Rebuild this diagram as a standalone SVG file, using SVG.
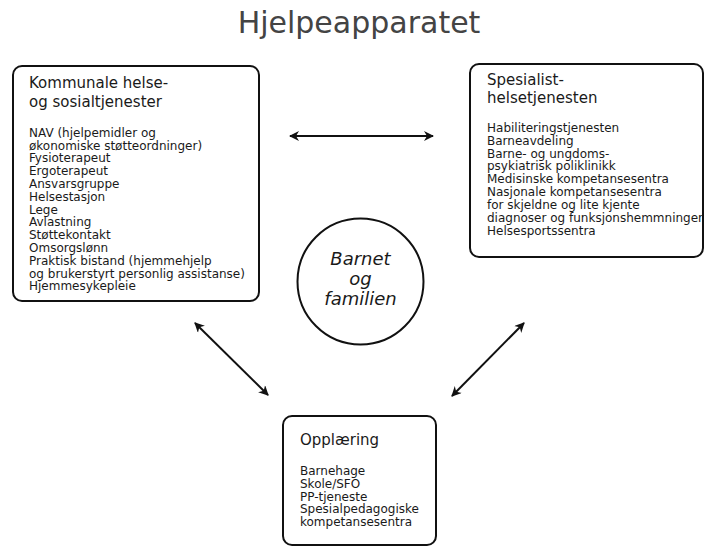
<svg xmlns="http://www.w3.org/2000/svg" width="705" height="548" viewBox="0 0 705 548">
<style>
.box{fill:#fff;stroke:#111;stroke-width:2}
.t{font-family:"DejaVu Sans","Verdana",sans-serif;fill:#1a1a1a}
.h{font-size:15px}
.i{font-size:12px}
.c{stroke:#111;stroke-width:2;fill:none;marker-start:url(#ah);marker-end:url(#ah)}
</style>
<defs>
<marker id="ah" viewBox="0 0 10 10" refX="9" refY="5" markerWidth="11" markerHeight="10" markerUnits="userSpaceOnUse" orient="auto-start-reverse">
<path d="M0,0 L10,5 L0,10 L3,5 z" fill="#111"/>
</marker>
</defs>
<rect width="705" height="548" fill="#fff"/>
<text x="359" y="33" text-anchor="middle" class="t" style="font-size:30px;fill:#444">Hjelpeapparatet</text>

<g id="kommunale">
<rect class="box" x="13" y="66" width="246" height="235" rx="9"/>
<text class="t h" x="29" y="88">Kommunale helse-</text>
<text class="t h" x="29" y="107">og sosialtjenester</text>
<text class="t i" x="29" y="136.7">NAV (hjelpemidler og</text>
<text class="t i" x="29" y="149.5">økonomiske støtteordninger)</text>
<text class="t i" x="29" y="162.3">Fysioterapeut</text>
<text class="t i" x="29" y="175.1">Ergoterapeut</text>
<text class="t i" x="29" y="187.9">Ansvarsgruppe</text>
<text class="t i" x="29" y="200.7">Helsestasjon</text>
<text class="t i" x="29" y="213.5">Lege</text>
<text class="t i" x="29" y="226.3">Avlastning</text>
<text class="t i" x="29" y="239.1">Støttekontakt</text>
<text class="t i" x="29" y="251.9">Omsorgslønn</text>
<text class="t i" x="29" y="264.7">Praktisk bistand (hjemmehjelp</text>
<text class="t i" x="29" y="277.5">og brukerstyrt personlig assistanse)</text>
<text class="t i" x="29" y="290.3">Hjemmesykepleie</text>
</g>

<g id="spesialist">
<rect class="box" x="470" y="64" width="233" height="193" rx="9"/>
<text class="t h" x="487" y="85">Spesialist-</text>
<text class="t h" x="487" y="103">helsetjenesten</text>
<text class="t i" x="487" y="131.7">Habiliteringstjenesten</text>
<text class="t i" x="487" y="144.6">Barneavdeling</text>
<text class="t i" x="487" y="157.5">Barne- og ungdoms-</text>
<text class="t i" x="487" y="170.4">psykiatrisk poliklinikk</text>
<text class="t i" x="487" y="183.3">Medisinske kompetansesentra</text>
<text class="t i" x="487" y="196.2">Nasjonale kompetansesentra</text>
<text class="t i" x="487" y="209.1">for skjeldne og lite kjente</text>
<text class="t i" x="487" y="222">diagnoser og funksjonshemmninger</text>
<text class="t i" x="487" y="234.9">Helsesportssentra</text>
</g>

<g id="opplaering">
<rect class="box" x="283" y="416" width="153" height="129" rx="9"/>
<text class="t h" x="300" y="445">Opplæring</text>
<text class="t i" x="300" y="475">Barnehage</text>
<text class="t i" x="300" y="487.75">Skole/SFO</text>
<text class="t i" x="300" y="500.5">PP-tjeneste</text>
<text class="t i" x="300" y="513.25">Spesialpedagogiske</text>
<text class="t i" x="300" y="526">kompetansesentra</text>
</g>

<g id="barnet">
<circle cx="360.5" cy="281.5" r="63" fill="#fff" stroke="#111" stroke-width="2"/>
<text class="t" x="360.5" y="265" text-anchor="middle" style="font-size:18px;font-style:italic">Barnet</text>
<text class="t" x="360.5" y="285" text-anchor="middle" style="font-size:18px;font-style:italic">og</text>
<text class="t" x="360.5" y="305" text-anchor="middle" style="font-size:18px;font-style:italic">familien</text>
</g>

<g id="connectors">
<line class="c" x1="290" y1="136" x2="433" y2="136"/>
<line class="c" x1="195" y1="323" x2="268" y2="395"/>
<line class="c" x1="524" y1="323" x2="452" y2="396"/>
</g>
</svg>
